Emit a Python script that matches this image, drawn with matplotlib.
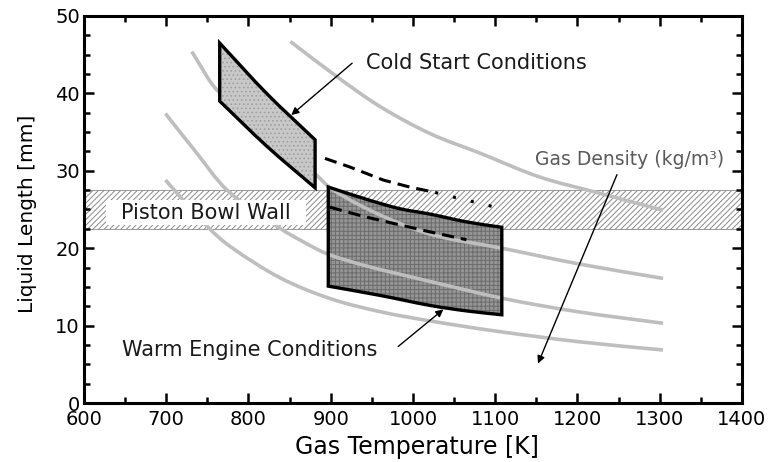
import matplotlib
matplotlib.use("Agg")
import matplotlib.pyplot as plt
from matplotlib.patches import Rectangle, PathPatch
from matplotlib.path import Path
from matplotlib.ticker import MultipleLocator

# ---------------- data ----------------
# gray constant-density liquid-length curves
curve_a_T = [851, 907, 960, 1021, 1081, 1154, 1227, 1304]
curve_a_L = [46.7, 42.2, 38.3, 34.8, 32.3, 29.2, 27.1, 24.9]
curve_b_T = [731, 762, 880, 903, 964, 1025, 1108, 1200, 1304]
curve_b_L = [45.4, 40.4, 29.7, 27.5, 24.1, 21.7, 20.0, 18.0, 16.1]
curve_c_T = [699, 734, 774, 838, 867, 895, 940, 1021, 1110, 1200, 1304]
curve_c_L = [37.4, 32.7, 27.5, 22.6, 20.8, 19.3, 17.8, 15.7, 13.5, 11.8, 10.3]
curve_d_T = [699, 750, 778, 838, 899, 960, 1021, 1100, 1203, 1304]
curve_d_L = [28.8, 22.8, 20.2, 16.2, 13.5, 11.8, 10.6, 9.3, 7.9, 6.85]

# cold start region
cold_T = [765, 822, 881]
cold_top_L = [46.5, 40.0, 34.0]
cold_bot_L = [39.0, 33.2, 27.8]

# warm engine region
warm_top_T = [897, 944, 984, 1021, 1065, 1108]
warm_top_L = [27.9, 26.3, 25.1, 24.4, 23.4, 22.7]
warm_bot_T = [897, 960, 1021, 1065, 1108]
warm_bot_L = [15.1, 13.9, 12.6, 11.9, 11.4]

# dashed lines
dash_up_T = [893, 923, 964, 996, 1027]
dash_up_L = [31.6, 30.5, 28.8, 27.9, 27.2]
dot_up_T = [1027, 1045, 1073, 1100]
dot_up_L = [27.2, 26.7, 26.0, 25.3]
dash_lo_T = [899, 940, 1021, 1065]
dash_lo_L = [25.3, 24.1, 22.1, 21.1]

# piston bowl wall band
band_low, band_high = 22.5, 27.5

x_ticks = [600, 700, 800, 900, 1000, 1100, 1200, 1300, 1400]
y_ticks = [0, 10, 20, 30, 40, 50]


def smooth(xs, ys, first=Path.MOVETO):
    """Smooth cubic (Hermite, parameterised by x) path through the given points."""
    n = len(xs)
    slopes = []
    for i in range(n):
        if i == 0:
            m = (ys[1] - ys[0]) / (xs[1] - xs[0])
        elif i == n - 1:
            m = (ys[-1] - ys[-2]) / (xs[-1] - xs[-2])
        else:
            m = (ys[i + 1] - ys[i - 1]) / (xs[i + 1] - xs[i - 1])
        slopes.append(m)
    verts = [(xs[0], ys[0])]
    codes = [first]
    for i in range(n - 1):
        h = (xs[i + 1] - xs[i]) / 3.0
        c1 = (xs[i] + h, ys[i] + slopes[i] * h)
        c2 = (xs[i + 1] - h, ys[i + 1] - slopes[i + 1] * h)
        verts += [c1, c2, (xs[i + 1], ys[i + 1])]
        codes += [Path.CURVE4] * 3
    return verts, codes


def region_path(top_T, top_L, bot_T, bot_L):
    v1, c1 = smooth(top_T, top_L)
    v2, c2 = smooth(bot_T, bot_L)
    # reverse bottom cubic path
    v2r = v2[::-1]
    c2r = [Path.LINETO] + [Path.CURVE4] * (len(v2r) - 1)
    verts = v1 + v2r + [v1[0]]
    codes = c1 + c2r + [Path.CLOSEPOLY]
    return Path(verts, codes)


# ---------------- figure ----------------
plt.rcParams['font.family'] = ['DejaVu Sans']
plt.rcParams['hatch.linewidth'] = 0.7
fig = plt.figure(figsize=(7.72, 4.62), dpi=100)
ax = fig.add_axes([0.1088, 0.1277, 0.8523, 0.8377])
ax.set_xlim(600, 1400)
ax.set_ylim(0, 50)

# band
ax.add_patch(Rectangle((600, band_low), 800, band_high - band_low,
                       facecolor='white', edgecolor='#8a8a8a', hatch='//////',
                       lw=0.6, zorder=1))

# warm region (below the gray curves)
warm_path = region_path(warm_top_T, warm_top_L, warm_bot_T, warm_bot_L)
ax.add_patch(PathPatch(warm_path, facecolor='#959595', edgecolor='none', zorder=2))
ax.add_patch(PathPatch(warm_path, facecolor='none', edgecolor='#6c6c6c', hatch='++++',
                       lw=0, zorder=2.1))

# gray curves
for T, L in [(curve_a_T, curve_a_L), (curve_b_T, curve_b_L),
             (curve_c_T, curve_c_L), (curve_d_T, curve_d_L)]:
    v, c = smooth(T, L)
    ax.add_patch(PathPatch(Path(v, c), fill=False, edgecolor='#bebebe', lw=2.6,
                           capstyle='butt', zorder=3))

# label box over the band
ax.add_patch(Rectangle((627, 23.0), 243, 3.2, facecolor='white', edgecolor='none', zorder=3.5))
ax.text(748, 24.6, 'Piston Bowl Wall', ha='center', va='center', fontsize=15,
        color='#1a1a1a', zorder=3.6)

# cold region (above the gray curves)
cold_path = region_path(cold_T, cold_top_L, cold_T, cold_bot_L)
ax.add_patch(PathPatch(cold_path, facecolor='#c8c8c8', edgecolor='none', zorder=3.2))
ax.add_patch(PathPatch(cold_path, facecolor='none', edgecolor='#a0a0a0', hatch='....',
                       lw=0, zorder=3.3))

# outlines
ax.add_patch(PathPatch(cold_path, fill=False, edgecolor='k', lw=2.4, joinstyle='miter', zorder=4))
ax.add_patch(PathPatch(warm_path, fill=False, edgecolor='k', lw=2.4, joinstyle='miter', zorder=4))

# dashed lines
ax.plot(dash_up_T, dash_up_L, color='k', lw=2.2, dashes=(4, 2.3), zorder=5)
ax.plot(dot_up_T, dot_up_L, color='k', lw=2.2, dashes=(1, 5), zorder=5)
ax.plot(dash_lo_T, dash_lo_L, color='k', lw=2.2, dashes=(4, 2.3), zorder=5)

# annotations
arrow = dict(arrowstyle='-|>', color='k', lw=1.0, mutation_scale=11, shrinkA=0, shrinkB=0)
ax.text(943, 43.9, 'Cold Start Conditions', ha='left', va='center', fontsize=15, color='#1a1a1a')
ax.annotate('', xy=(852, 37.2), xytext=(926, 43.9), arrowprops=arrow, zorder=6)
ax.text(646, 6.85, 'Warm Engine Conditions', ha='left', va='center', fontsize=15, color='#1a1a1a')
ax.annotate('', xy=(1037, 12.1), xytext=(982, 7.3), arrowprops=arrow, zorder=6)
ax.text(1148, 31.4, 'Gas Density (kg/m³)', ha='left', va='center', fontsize=13.5, color='#5a5a5a')
ax.annotate('', xy=(1152, 5.1), xytext=(1248, 29.5), arrowprops=arrow, zorder=6)

# axes styling
ax.set_xticks(x_ticks)
ax.set_yticks(y_ticks)
ax.xaxis.set_minor_locator(MultipleLocator(50))
ax.yaxis.set_minor_locator(MultipleLocator(2.5))
ax.tick_params(which='both', direction='in', top=True, right=True, width=1.8, color='k')
ax.tick_params(which='major', length=7, labelsize=14, pad=3)
ax.tick_params(which='minor', length=4)
ax.tick_params(axis='x', which='major', pad=5)
for s in ax.spines.values():
    s.set_linewidth(2.2)

ax.set_xlabel('Gas Temperature [K]', fontsize=17, va='center')
ax.xaxis.set_label_coords(0.506, -0.114)
ax.set_ylabel('Liquid Length [mm]', fontsize=14.5, va='center')
ax.yaxis.set_label_coords(-0.0866, 0.49)

fig.savefig('out.png', dpi=100)
